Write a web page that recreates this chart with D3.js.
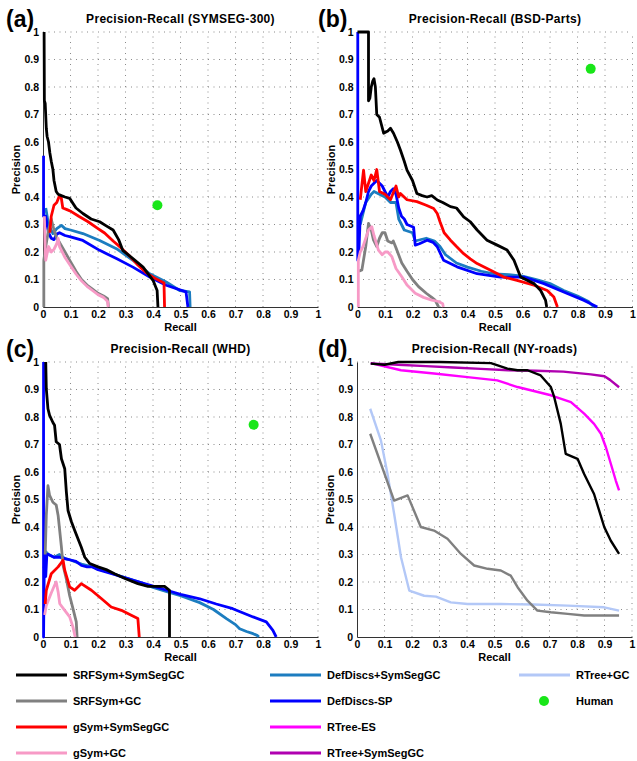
<!DOCTYPE html>
<html><head><meta charset="utf-8">
<script src="https://cdn.jsdelivr.net/npm/d3@7"></script>
<style>
body{margin:0;background:#fff;}
svg text{font-family:"Liberation Sans",Arial,sans-serif;font-weight:bold;fill:#000;}
</style></head><body>
<svg id="c" width="637" height="761"></svg>
<script>
// ---------- data ----------
const tickLabels = ["0","0.1","0.2","0.3","0.4","0.5","0.6","0.7","0.8","0.9","1"];
const tickValues = [0,0.1,0.2,0.3,0.4,0.5,0.6,0.7,0.8,0.9,1];
const panelLetters = ["(a)","(b)","(c)","(d)"];
const panelTitles = ["Precision-Recall (SYMSEG-300)","Precision-Recall (BSD-Parts)","Precision-Recall (WHD)","Precision-Recall (NY-roads)"];
const seriesNames = ["SRFSym+SymSegGC","SRFSym+GC","gSym+SymSegGC","gSym+GC","DefDiscs+SymSegGC","DefDiscs-SP","RTree-ES","RTree+SymSegGC","RTree+GC","Human"];
const seriesColors = ["#000000","#808080","#ff0000","#f79ac6","#1c7dc0","#0000ff","#ff00ff","#b000b0","#b3c8f7","#19e619"];

// panel (a) SYMSEG-300  [recall, precision]
const a_SRFSym_SymSegGC = [[0.004,1],[0.005,0.75],[0.008,0.74],[0.012,0.65],[0.015,0.62],[0.02,0.6],[0.025,0.56],[0.03,0.53],[0.036,0.5],[0.04,0.46],[0.048,0.42],[0.055,0.41],[0.067,0.405],[0.08,0.40],[0.097,0.395],[0.12,0.36],[0.145,0.34],[0.175,0.32],[0.206,0.31],[0.23,0.295],[0.255,0.28],[0.275,0.245],[0.29,0.206],[0.327,0.176],[0.364,0.145],[0.4,0.097],[0.415,0.06],[0.418,0]];
const a_SRFSym_GC = [[0.003,0],[0.003,0.17],[0.01,0.22],[0.02,0.28],[0.03,0.32],[0.04,0.28],[0.05,0.25],[0.06,0.235],[0.08,0.2],[0.1,0.165],[0.12,0.13],[0.14,0.1],[0.16,0.08],[0.18,0.065],[0.2,0.05],[0.22,0.04],[0.235,0.03],[0.238,0]];
const a_gSym_SymSegGC = [[0.025,0.27],[0.03,0.33],[0.04,0.37],[0.05,0.38],[0.06,0.405],[0.066,0.40],[0.072,0.36],[0.085,0.355],[0.103,0.347],[0.13,0.33],[0.164,0.31],[0.2,0.285],[0.224,0.269],[0.255,0.24],[0.285,0.214],[0.315,0.185],[0.345,0.153],[0.375,0.125],[0.406,0.105],[0.44,0.087],[0.442,0]];
const a_gSym_GC = [[0.005,0.33],[0.008,0.2],[0.01,0.17],[0.02,0.22],[0.03,0.2],[0.04,0.21],[0.05,0.23],[0.055,0.25],[0.06,0.22],[0.08,0.18],[0.1,0.15],[0.12,0.12],[0.14,0.095],[0.16,0.075],[0.18,0.06],[0.2,0.045],[0.22,0.035],[0.235,0.02],[0.237,0]];
const a_DefDiscs_SymSegGC = [[0.01,0.36],[0.02,0.3],[0.036,0.267],[0.05,0.285],[0.067,0.297],[0.08,0.285],[0.1,0.28],[0.145,0.267],[0.206,0.242],[0.267,0.212],[0.327,0.17],[0.388,0.121],[0.448,0.091],[0.497,0.06],[0.533,0.055],[0.535,0]];
const a_DefDiscs_SP = [[0.002,0.55],[0.002,0.33],[0.01,0.33],[0.015,0.3],[0.02,0.27],[0.03,0.25],[0.04,0.245],[0.05,0.265],[0.06,0.27],[0.08,0.26],[0.1,0.255],[0.145,0.242],[0.206,0.206],[0.267,0.176],[0.327,0.145],[0.388,0.109],[0.448,0.079],[0.52,0.055],[0.527,0]];
const a_Human = [[0.416,0.37]];

// panel (b) BSD-Parts
const b_SRFSym_SymSegGC = [[0,1],[0.04,1],[0.04,0.75],[0.045,0.76],[0.05,0.8],[0.055,0.82],[0.06,0.83],[0.065,0.8],[0.07,0.70],[0.08,0.69],[0.095,0.632],[0.11,0.64],[0.12,0.65],[0.131,0.632],[0.145,0.6],[0.156,0.571],[0.17,0.53],[0.18,0.498],[0.2,0.46],[0.216,0.413],[0.235,0.405],[0.253,0.40],[0.27,0.405],[0.29,0.389],[0.31,0.38],[0.338,0.365],[0.36,0.36],[0.386,0.328],[0.41,0.31],[0.435,0.28],[0.471,0.243],[0.508,0.225],[0.544,0.207],[0.569,0.17],[0.593,0.109],[0.642,0.085],[0.666,0.06],[0.684,0.024],[0.688,0]];
const b_SRFSym_GC = [[0.005,0.13],[0.016,0.135],[0.03,0.22],[0.04,0.304],[0.05,0.28],[0.058,0.244],[0.07,0.22],[0.08,0.25],[0.09,0.27],[0.1,0.27],[0.11,0.24],[0.125,0.233],[0.13,0.24],[0.14,0.215],[0.161,0.16],[0.18,0.13],[0.2,0.1],[0.222,0.074],[0.25,0.05],[0.27,0.035],[0.282,0.025],[0.29,0.01],[0.295,0]];
const b_gSym_SymSegGC = [[0.01,0.39],[0.022,0.498],[0.03,0.42],[0.04,0.45],[0.05,0.48],[0.06,0.46],[0.07,0.5],[0.08,0.42],[0.1,0.41],[0.12,0.39],[0.14,0.44],[0.15,0.40],[0.156,0.413],[0.18,0.39],[0.216,0.383],[0.25,0.37],[0.277,0.358],[0.29,0.34],[0.3,0.31],[0.315,0.27],[0.338,0.243],[0.36,0.22],[0.386,0.194],[0.41,0.175],[0.435,0.158],[0.484,0.134],[0.532,0.109],[0.58,0.097],[0.642,0.079],[0.69,0.06],[0.714,0.036],[0.727,0]];
const b_gSym_GC = [[0.003,0],[0.003,0.17],[0.01,0.2],[0.02,0.22],[0.028,0.244],[0.04,0.28],[0.052,0.292],[0.06,0.26],[0.076,0.207],[0.09,0.19],[0.1,0.2],[0.11,0.2],[0.125,0.183],[0.14,0.14],[0.161,0.11],[0.18,0.08],[0.21,0.05],[0.24,0.035],[0.27,0.025],[0.295,0.02],[0.31,0.012],[0.312,0]];
const b_DefDiscs_SymSegGC = [[0.01,0.3],[0.03,0.38],[0.05,0.41],[0.06,0.42],[0.08,0.41],[0.1,0.40],[0.12,0.38],[0.14,0.38],[0.15,0.32],[0.17,0.28],[0.2,0.27],[0.21,0.24],[0.25,0.25],[0.28,0.24],[0.3,0.22],[0.32,0.19],[0.36,0.16],[0.4,0.145],[0.45,0.13],[0.5,0.12],[0.55,0.118],[0.6,0.112],[0.65,0.1],[0.7,0.085],[0.75,0.06],[0.8,0.04],[0.84,0.02],[0.86,0]];
const b_DefDiscs_SP = [[0.001,1],[0.001,0.17],[0.005,0.2],[0.01,0.33],[0.02,0.35],[0.03,0.38],[0.04,0.42],[0.05,0.44],[0.06,0.45],[0.07,0.46],[0.08,0.45],[0.09,0.44],[0.1,0.42],[0.11,0.40],[0.12,0.42],[0.13,0.43],[0.14,0.41],[0.15,0.36],[0.16,0.33],[0.17,0.32],[0.18,0.30],[0.204,0.29],[0.21,0.225],[0.225,0.23],[0.253,0.243],[0.275,0.235],[0.29,0.219],[0.313,0.17],[0.362,0.146],[0.435,0.121],[0.52,0.109],[0.605,0.109],[0.678,0.085],[0.763,0.049],[0.824,0.024],[0.872,0]];
const b_Human = [[0.848,0.866]];

// panel (c) WHD
const c_SRFSym_SymSegGC = [[0.01,1],[0.012,0.903],[0.018,0.83],[0.024,0.806],[0.036,0.78],[0.042,0.77],[0.048,0.71],[0.06,0.70],[0.067,0.648],[0.079,0.612],[0.085,0.527],[0.091,0.46],[0.103,0.42],[0.115,0.388],[0.139,0.327],[0.152,0.29],[0.17,0.267],[0.2,0.255],[0.23,0.245],[0.26,0.23],[0.3,0.212],[0.345,0.194],[0.382,0.184],[0.442,0.184],[0.46,0.17],[0.46,0]];
const c_SRFSym_GC = [[0.008,0.3],[0.012,0.442],[0.018,0.55],[0.024,0.515],[0.036,0.49],[0.048,0.48],[0.055,0.442],[0.06,0.394],[0.067,0.327],[0.073,0.26],[0.085,0.21],[0.097,0.15],[0.109,0.103],[0.121,0.055],[0.124,0]];
const c_gSym_SymSegGC = [[0.008,0.12],[0.012,0.17],[0.03,0.23],[0.055,0.255],[0.073,0.279],[0.079,0.243],[0.097,0.182],[0.115,0.17],[0.139,0.194],[0.176,0.17],[0.212,0.14],[0.248,0.109],[0.285,0.097],[0.321,0.079],[0.345,0.067],[0.35,0]];
const c_gSym_GC = [[0.006,0.08],[0.012,0.115],[0.03,0.16],[0.042,0.188],[0.048,0.2],[0.055,0.164],[0.061,0.121],[0.079,0.097],[0.097,0.073],[0.109,0.036],[0.117,0]];
const c_DefDiscs_SymSegGC = [[0.004,0.25],[0.01,0.31],[0.02,0.3],[0.04,0.29],[0.06,0.3],[0.08,0.285],[0.1,0.28],[0.14,0.265],[0.2,0.25],[0.25,0.232],[0.3,0.215],[0.35,0.2],[0.4,0.18],[0.45,0.165],[0.5,0.15],[0.57,0.125],[0.62,0.1],[0.667,0.067],[0.7,0.045],[0.715,0.03],[0.74,0.02],[0.764,0.012],[0.78,0.005],[0.785,0]];
const c_DefDiscs_SP = [[0.002,1],[0.002,0],[0.004,0.2],[0.006,0.31],[0.01,0.22],[0.014,0.3],[0.02,0.3],[0.04,0.29],[0.06,0.29],[0.08,0.285],[0.1,0.28],[0.12,0.275],[0.14,0.26],[0.16,0.255],[0.18,0.255],[0.2,0.245],[0.25,0.23],[0.3,0.215],[0.35,0.2],[0.4,0.185],[0.45,0.17],[0.5,0.155],[0.57,0.139],[0.63,0.12],[0.69,0.103],[0.764,0.073],[0.812,0.055],[0.836,0.024],[0.848,0]];
const c_Human = [[0.766,0.772]];

// panel (d) NY-roads
const d_SRFSym_SymSegGC = [[0.05,0.994],[0.1,0.99],[0.15,1.0],[0.3,1.0],[0.487,0.996],[0.547,0.976],[0.584,0.97],[0.62,0.97],[0.668,0.951],[0.705,0.909],[0.717,0.873],[0.741,0.775],[0.759,0.666],[0.802,0.648],[0.826,0.593],[0.862,0.52],[0.899,0.4],[0.923,0.35],[0.953,0.302]];
const d_SRFSym_GC = [[0.048,0.739],[0.087,0.63],[0.135,0.496],[0.184,0.515],[0.232,0.40],[0.28,0.387],[0.329,0.357],[0.378,0.302],[0.426,0.26],[0.475,0.248],[0.523,0.242],[0.559,0.223],[0.584,0.181],[0.62,0.132],[0.656,0.096],[0.705,0.09],[0.766,0.084],[0.826,0.078],[0.887,0.078],[0.953,0.078]];
const d_RTree_ES = [[0.05,0.996],[0.16,0.97],[0.28,0.958],[0.402,0.945],[0.51,0.933],[0.584,0.909],[0.705,0.879],[0.778,0.854],[0.826,0.812],[0.862,0.775],[0.887,0.739],[0.905,0.69],[0.923,0.63],[0.941,0.569],[0.953,0.533]];
const d_RTree_SymSegGC = [[0.05,0.995],[0.15,0.99],[0.25,0.985],[0.35,0.98],[0.45,0.975],[0.55,0.97],[0.65,0.968],[0.75,0.965],[0.85,0.955],[0.9,0.948],[0.92,0.935],[0.953,0.908]];
const d_RTree_GC = [[0.048,0.83],[0.087,0.715],[0.111,0.593],[0.135,0.448],[0.16,0.29],[0.19,0.169],[0.244,0.15],[0.287,0.147],[0.341,0.126],[0.402,0.12],[0.523,0.12],[0.644,0.118],[0.766,0.114],[0.899,0.108],[0.953,0.096]];

// ---------- drawing ----------
const svg = d3.select("#c");
const W = 275, H = 275;
const panels = [
  {L:43, B:307, lx:6, series:[[a_DefDiscs_SymSegGC,4],[a_DefDiscs_SP,5],[a_SRFSym_GC,1],[a_gSym_GC,3],[a_gSym_SymSegGC,2],[a_SRFSym_SymSegGC,0]], human:a_Human, lw:2.8},
  {L:357.5, B:307, lx:318, series:[[b_DefDiscs_SymSegGC,4],[b_DefDiscs_SP,5],[b_SRFSym_GC,1],[b_gSym_GC,3],[b_gSym_SymSegGC,2],[b_SRFSym_SymSegGC,0]], human:b_Human, lw:2.8},
  {L:43, B:637, lx:6, series:[[c_DefDiscs_SymSegGC,4],[c_DefDiscs_SP,5],[c_SRFSym_GC,1],[c_gSym_GC,3],[c_gSym_SymSegGC,2],[c_SRFSym_SymSegGC,0]], human:c_Human, lw:2.8},
  {L:357, B:637, lx:318, series:[[d_RTree_GC,8],[d_SRFSym_GC,1],[d_RTree_ES,6],[d_RTree_SymSegGC,7],[d_SRFSym_SymSegGC,0]], human:null, lw:2.4}
];

panels.forEach((p,i)=>{
  const x = d3.scaleLinear().domain([0,1]).range([p.L, p.L+W]);
  const y = d3.scaleLinear().domain([0,1]).range([p.B, p.B-H]);
  const g = svg.append("g");
  // grid
  const gv = tickValues.filter(v=>v>0);
  g.selectAll(null).data(gv).join("line")
    .attr("x1",d=>x(d)).attr("x2",d=>x(d)).attr("y1",y(0)).attr("y2",y(1))
    .attr("stroke","#8a8a8a").attr("stroke-width",1).attr("stroke-dasharray","1,4.5");
  g.selectAll(null).data(gv).join("line")
    .attr("y1",d=>y(d)).attr("y2",d=>y(d)).attr("x1",x(0)).attr("x2",x(1))
    .attr("stroke","#8a8a8a").attr("stroke-width",1).attr("stroke-dasharray","1,4.5");
  // axes
  const xa = g.append("g").attr("transform",`translate(0,${p.B})`)
    .call(d3.axisBottom(x).tickValues(tickValues).tickFormat((d,k)=>tickLabels[k]).tickSize(0).tickPadding(4));
  const ya = g.append("g").attr("transform",`translate(${p.L},0)`)
    .call(d3.axisLeft(y).tickValues(tickValues).tickFormat((d,k)=>tickLabels[k]).tickSize(0).tickPadding(4));
  [xa,ya].forEach(a=>{
    a.select(".domain").attr("stroke","#333").attr("stroke-width",1);
    a.selectAll("text").style("font-size","10.5px").style("font-family","Liberation Sans, Arial, sans-serif").style("font-weight","bold").attr("fill","#000");
  });
  // curves
  const line = d3.line().x(d=>x(d[0])).y(d=>y(d[1]));
  p.series.forEach(([data,ci])=>{
    g.append("path").attr("d",line(data)).attr("fill","none")
      .attr("stroke",seriesColors[ci]).attr("stroke-width",p.lw)
      .attr("stroke-linejoin","round").attr("stroke-linecap","butt");
  });
  if(p.human){
    g.selectAll(null).data(p.human).join("circle")
      .attr("cx",d=>x(d[0])).attr("cy",d=>y(d[1])).attr("r",5).attr("fill",seriesColors[9]);
  }
  // texts
  g.append("text").attr("x",p.L+W/2).attr("y",p.B-H-9).attr("text-anchor","middle")
    .style("font-size","12px").style("letter-spacing","0.3px").text(panelTitles[i]);
  g.append("text").attr("x",p.lx).attr("y",p.B-H-5)
    .style("font-size","23px").text(panelLetters[i]);
  g.append("text").attr("x",p.L+W/2).attr("y",p.B+24).attr("text-anchor","middle")
    .style("font-size","11px").text("Recall");
  g.append("text").attr("transform",`translate(${p.L-23},${p.B-H/2}) rotate(-90)`).attr("text-anchor","middle")
    .style("font-size","11px").text("Precision");
});

// legend
const legendCols = [16,270,519];
const legendRows = [675,701,727,753];
const legendItems = [[0,0,0],[1,0,1],[2,0,2],[3,0,3],[4,1,0],[5,1,1],[6,1,2],[7,1,3],[8,2,0],[9,2,1]];
const lg = svg.append("g");
legendItems.forEach(([si,c,r])=>{
  const lx = legendCols[c], ly = legendRows[r];
  if(si===9){
    lg.append("circle").attr("cx",lx+25).attr("cy",ly).attr("r",5).attr("fill",seriesColors[si]);
  } else {
    lg.append("line").attr("x1",lx).attr("x2",lx+51).attr("y1",ly).attr("y2",ly)
      .attr("stroke",seriesColors[si]).attr("stroke-width",3);
  }
  lg.append("text").attr("x",lx+57).attr("y",ly+4).style("font-size","11px").text(seriesNames[si]);
});
</script>
</body></html>
